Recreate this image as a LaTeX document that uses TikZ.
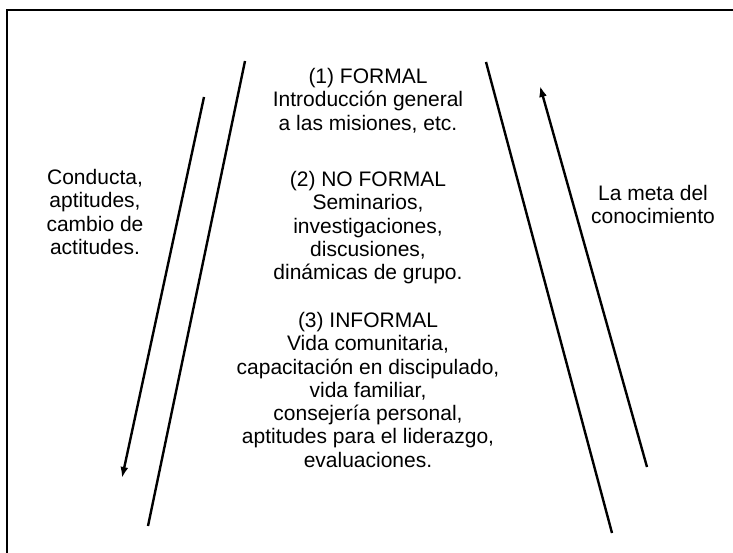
\documentclass[tikz,border=0pt]{standalone}
\usepackage{fontspec}
\setmainfont{Liberation Sans}
\usetikzlibrary{arrows.meta}
\begin{document}
\begin{tikzpicture}[x=1pt,y=-1pt,
  txt/.style={align=center,font=\fontsize{21}{23.3}\selectfont,inner sep=0pt,anchor=north},
  ln/.style={line width=2.4pt},
  arr/.style={line width=2.4pt,-{Latex[length=11pt,width=8pt]}}]
\useasboundingbox (0,0) rectangle (733,553);
% frame
\coordinate (ftr) at (733,10);
\coordinate (ftl) at (7,10);
\coordinate (fbl) at (7,553);
\draw[line width=1.8pt] (ftr) -- (ftl) -- (fbl);
% lines
\coordinate (l1a) at (245,61);
\coordinate (l1b) at (148,526);
\coordinate (a1a) at (204,97);
\coordinate (a1b) at (122,478);
\coordinate (r1a) at (486,62);
\coordinate (r1b) at (612,533);
\coordinate (a2a) at (647,467);
\coordinate (a2b) at (540,86);
\draw[ln] (l1a) -- (l1b);
\draw[ln] (r1a) -- (r1b);
\draw[arr] (a1a) -- (a1b);
\draw[arr] (a2a) -- (a2b);
% texts
\node[txt] (t1) at (368,68) {(1) FORMAL\\Introducción general\\a las misiones, etc.};
\node[txt] (t2) at (368,171) {(2) NO FORMAL\\Seminarios,\\investigaciones,\\discusiones,\\dinámicas de grupo.};
\node[txt] (t3) at (368,312) {(3) INFORMAL\\Vida comunitaria,\\capacitación en discipulado,\\vida familiar,\\consejería personal,\\aptitudes para el liderazgo,\\evaluaciones.};
\node[txt] (tl) at (95,169) {Conducta,\\aptitudes,\\cambio de\\actitudes.};
\node[txt] (tr) at (653,185) {La meta del\\conocimiento};
\end{tikzpicture}
\end{document}
